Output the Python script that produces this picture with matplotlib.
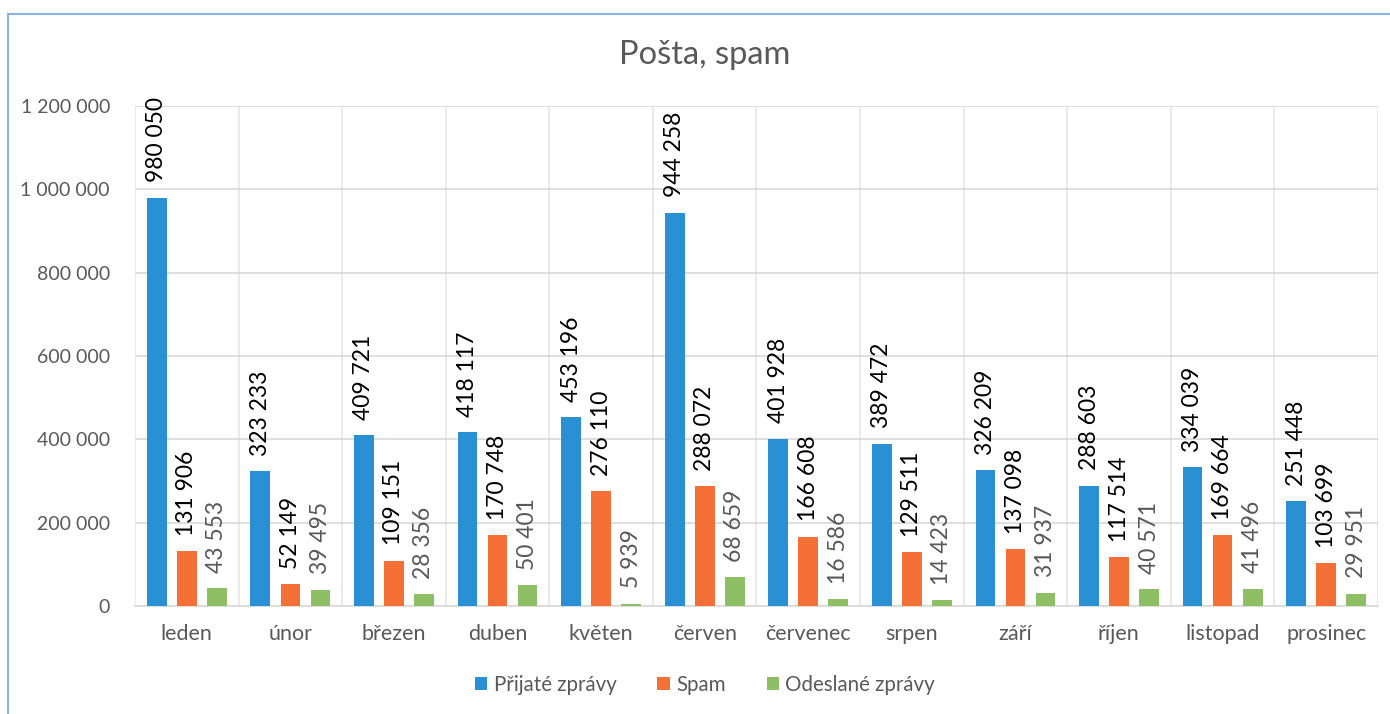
import matplotlib
matplotlib.use("Agg")
import matplotlib.pyplot as plt
import numpy as np
from matplotlib.lines import Line2D

months = ["leden", "únor", "březen", "duben", "květen", "červen", "červenec",
          "srpen", "září", "říjen", "listopad", "prosinec"]
prijate = [980050, 323233, 409721, 418117, 453196, 944258, 401928, 389472,
           326209, 288603, 334039, 251448]
spam = [131906, 52149, 109151, 170748, 276110, 288072, 166608, 129511,
        137098, 117514, 169664, 103699]
odeslane = [43553, 39495, 28356, 50401, 5939, 68659, 16586, 14423, 31937,
            40571, 41496, 29951]
series_names = ["Přijaté zprávy", "Spam", "Odeslané zprávy"]
colors = ["#2990D4", "#F47036", "#8FBF64"]
label_colors = ["#000000", "#000000", "#595959"]

plt.rcParams['font.family'] = ['Lato', 'DejaVu Sans']

fig = plt.figure(figsize=(13.9, 7.14), dpi=100)
ax = fig.add_axes([135/1390, 1-606/714, (1378-135)/1390, 500/714])

x = np.arange(len(months))
width = 0.19
offsets = [-0.29, 0.0, 0.29]
for vals, off, col, lc, name in zip([prijate, spam, odeslane], offsets, colors,
                                    label_colors, series_names):
    bars = ax.bar(x + off, vals, width, color=col, label=name, zorder=3)
    for b, v in zip(bars, vals):
        ax.annotate(f"{v:,}".replace(",", " "),
                    (b.get_x() + b.get_width()/2, b.get_height()),
                    xytext=(0, 11), textcoords="offset points",
                    rotation=90, ha="center", va="bottom",
                    fontsize=16.5, color=lc, zorder=4)

ax.set_xlim(-0.5, len(months) - 0.5)
ax.set_ylim(0, 1200000)
ax.set_yticks(np.arange(0, 1200001, 200000))
ax.set_yticklabels([f"{int(v):,}".replace(",", " ") for v in np.arange(0, 1200001, 200000)])
ax.set_xticks(x)
ax.set_xticklabels(months)
ax.set_xticks(np.arange(-0.5, len(months), 0.5), minor=True)

ax.grid(axis="y", color="#D9D9D9", linewidth=1.2, zorder=0)
ax.grid(axis="x", which="minor", color="#E6E6E6", linewidth=1.2, zorder=0)
ax.grid(axis="x", which="major", visible=False)
for s in ["left", "right", "top"]:
    ax.spines[s].set_visible(False)
ax.spines["bottom"].set_color("#D9D9D9")
ax.spines["bottom"].set_linewidth(1.2)
ax.tick_params(axis="both", which="both", length=0, colors="#595959")
ax.tick_params(axis="y", labelsize=14, pad=18)
ax.tick_params(axis="x", labelsize=15.5, pad=13)

fig.text(705/1390, 1-55/714, "Pošta, spam", ha="center", va="center",
         fontsize=23.5, color="#595959")

leg = fig.legend(loc="center", bbox_to_anchor=(705/1390, 1-685/714), ncol=3,
                 frameon=False, fontsize=14.8, handlelength=0.6, handleheight=0.6,
                 handletextpad=0.3, columnspacing=2.0)
for t in leg.get_texts():
    t.set_color("#595959")

# frame
fig.add_artist(Line2D([8/1390, 8/1390], [0, 1-14/714], color="#8EB4E3", linewidth=1.5,
                      transform=fig.transFigure))
fig.add_artist(Line2D([8/1390, 1], [1-14/714, 1-14/714], color="#8EB4E3", linewidth=1.5,
                      transform=fig.transFigure))

fig.savefig("out.png", dpi=100)
